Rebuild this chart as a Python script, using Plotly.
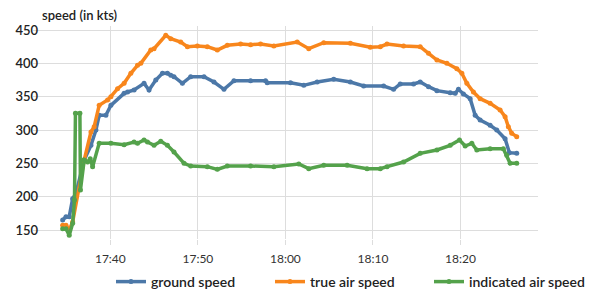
import pandas as pd
import plotly.graph_objects as go

# minutes after 17:00 and speeds (kts)
gs_min = [34.55, 34.93, 35.30, 35.69, 36.07, 37.01, 37.78, 38.35, 38.72, 39.49, 40.06, 41.57, 41.96,
          42.71, 43.85, 44.42, 45.19, 45.95, 46.52, 46.90, 47.27, 48.23, 49.18, 50.70, 51.84, 52.98,
          54.12, 56.02, 57.73, 57.92, 60.58, 62.10, 63.63, 65.52, 67.42, 68.94, 71.22, 72.36, 73.12,
          74.64, 75.40, 76.35, 77.31, 78.83, 79.40, 79.77, 80.34, 81.11, 81.68, 82.25, 83.39, 84.15,
          85.10, 85.59, 86.43]
gs_val = [165, 170, 170, 197, 205, 255, 277, 300, 322, 322, 337, 355, 357,
          360, 370, 360, 375, 385, 385, 382, 380, 370, 380, 380, 372, 361,
          374, 374, 374, 371, 371, 367, 372, 376, 372, 366, 366, 361, 369,
          369, 372, 365, 359, 356, 355, 361, 354, 347, 322, 315, 307, 300,
          287, 266, 265]

tas_min = [34.55, 34.93, 35.30, 35.69, 37.01, 37.78, 38.15, 38.72, 39.68, 40.06, 40.82, 41.57, 42.34,
           43.10, 43.48, 44.62, 44.99, 46.33, 46.90, 48.04, 48.80, 49.94, 51.08, 52.22, 53.36, 54.88,
           56.02, 57.16, 58.68, 61.35, 62.67, 64.38, 67.42, 69.70, 70.84, 71.61, 73.50, 75.40, 76.35,
           77.31, 78.45, 79.59, 80.16, 80.73, 81.48, 82.25, 83.39, 84.53, 85.10, 85.47, 85.86, 86.43]
tas_val = [157, 157, 150, 162, 255, 297, 305, 337, 345, 350, 362, 370, 385,
           397, 400, 420, 422, 442, 437, 432, 425, 426, 425, 420, 427, 429,
           428, 429, 426, 432, 422, 431, 430, 424, 425, 429, 426, 425, 415,
           405, 400, 392, 385, 370, 357, 347, 340, 330, 320, 305, 295, 290]

ias_min = [34.55, 34.93, 35.30, 35.69, 35.90, 36.01, 36.52, 36.58, 37.01, 37.40, 37.70, 37.97, 38.72,
           40.06, 41.57, 42.71, 43.10, 43.85, 44.24, 44.99, 45.76, 46.52, 47.27, 48.42, 49.18, 51.08,
           52.22, 53.36, 56.02, 58.68, 61.53, 62.67, 64.38, 67.05, 69.33, 70.84, 71.61, 73.50, 75.40,
           77.31, 78.83, 79.89, 80.54, 81.30, 81.87, 83.39, 84.90, 85.29, 85.67, 86.43]
ias_val = [152, 152, 142, 160, 195, 325, 325, 210, 255, 252, 257, 245, 280,
           280, 278, 282, 280, 285, 282, 277, 283, 277, 267, 250, 246, 245,
           241, 246, 246, 245, 249, 242, 247, 247, 242, 242, 245, 252, 265,
           270, 277, 285, 276, 280, 270, 272, 272, 262, 250, 250]

names = ["ground speed", "true air speed", "indicated air speed"]
colors = ["#4c78a8", "#f8861c", "#54a24b"]
x_ticks = ["17:40", "17:50", "18:00", "18:10", "18:20"]
y_ticks = [150, 200, 250, 300, 350, 400, 450]

base = pd.Timestamp("2021-01-01 17:00:00")
def to_t(mins):
    return [base + pd.Timedelta(minutes=m) for m in mins]

fig = go.Figure()
for mins, vals, name, col in [(gs_min, gs_val, names[0], colors[0]),
                              (tas_min, tas_val, names[1], colors[1]),
                              (ias_min, ias_val, names[2], colors[2])]:
    fig.add_trace(go.Scatter(x=to_t(mins), y=vals, name=name, mode="lines+markers",
                             line=dict(color=col, width=3.5),
                             marker=dict(color=col, size=5)))

tickvals = [pd.Timestamp("2021-01-01 " + t) for t in x_ticks]
fig.update_layout(
    width=592, height=298,
    margin=dict(l=33, r=54, t=26, b=59, autoexpand=False),
    paper_bgcolor="white", plot_bgcolor="white",
    font=dict(family="Lato", color="#222"),
    showlegend=True,
    legend=dict(orientation="h", xref="container", x=111 / 592, xanchor="left",
                yref="container", y=0.0, yanchor="bottom",
                font=dict(size=14, weight=600, color="#222"),
                itemwidth=30, entrywidth=114),
    xaxis=dict(range=[base + pd.Timedelta(minutes=31.16), base + pd.Timedelta(minutes=88.86)],
               tickvals=tickvals, ticktext=x_ticks,
               showgrid=True, gridcolor="#dddddd", gridwidth=1,
               ticks="outside", ticklen=5, tickcolor="#dddddd", ticklabelstandoff=4,
               tickfont=dict(size=12, color="#333"), showline=False, zeroline=False),
    yaxis=dict(range=[136.5, 456], tickvals=y_ticks,
               showgrid=True, gridcolor="#dddddd", gridwidth=1,
               tickfont=dict(size=13, weight=600, color="#222"), ticks="", showline=False,
               ticklabelstandoff=-6, zeroline=False),
    annotations=[dict(text="speed (in kts)", xref="paper", yref="paper", x=(40 - 33) / 505,
                      y=1.0, xanchor="left", yanchor="bottom", yshift=1, showarrow=False,
                      font=dict(size=13, weight=600, color="#222"))],
)
fig.write_html("out.html", config={"displayModeBar": False},
               post_script="document.body.style.margin='0';")
